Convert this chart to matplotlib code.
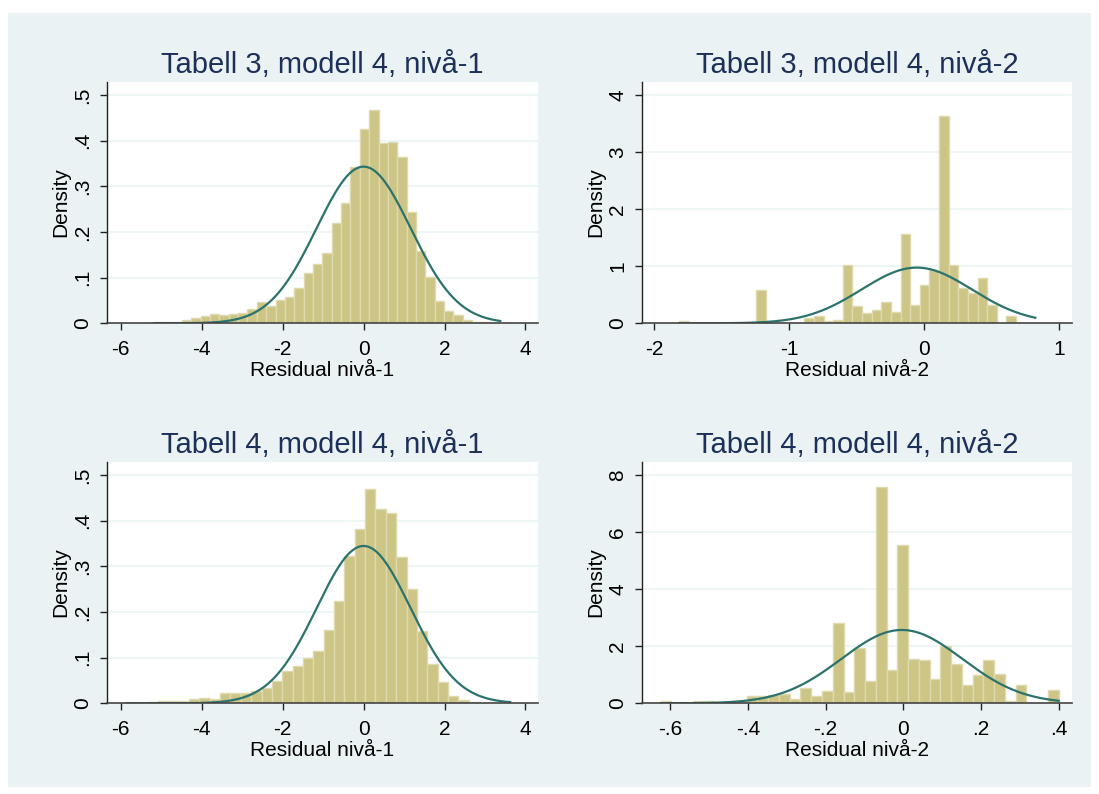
# encoding=utf-8
'''
Residualhistogram, fire paneler i Stata-stil
'''
import numpy as np
import matplotlib
matplotlib.use('Agg')
import matplotlib.pyplot as plt
from matplotlib.patches import Rectangle

plt.rcParams['font.family'] = ['Liberation Sans', 'DejaVu Sans']

# ---- data lest av bildet ----
titles = ['Tabell 3, modell 4, nivå-1', 'Tabell 3, modell 4, nivå-2',
          'Tabell 4, modell 4, nivå-1', 'Tabell 4, modell 4, nivå-2']
xlabels = ['Residual nivå-1', 'Residual nivå-2', 'Residual nivå-1', 'Residual nivå-2']

# start på første søyle og søylebredde
t3_n1_start, t3_n1_width = -5.185, 0.2314
t3_n2_start, t3_n2_width = -1.815, 0.07127
t4_n1_start, t4_n1_width = -5.853, 0.2561
t4_n2_start, t4_n2_width = -0.624, 0.02765

t3_n1_density = [0.002, 0.002, 0.002, 0.007, 0.012, 0.016, 0.020, 0.018, 0.020, 0.023,
                 0.031, 0.047, 0.037, 0.051, 0.057, 0.077, 0.110, 0.130, 0.155, 0.219,
                 0.263, 0.343, 0.425, 0.466, 0.394, 0.396, 0.364, 0.243, 0.158, 0.101,
                 0.049, 0.027, 0.018, 0.007, 0.003, 0.002, 0.001]
t3_n2_density = [0.04, 0, 0, 0, 0, 0, 0, 0, 0.584, 0,
                 0, 0, 0, 0.09, 0.125, 0.04, 0.058, 1.02, 0.30, 0.175,
                 0.233, 0.37, 0.20, 1.56, 0.315, 0.665, 0.934, 3.63, 1.02, 0.613,
                 0.525, 0.79, 0.315, 0.01, 0.125, 0, 0.01]
t4_n1_density = [0.001, 0.001, 0.002, 0.005, 0.005, 0.006, 0.0095, 0.012, 0.010, 0.022,
                 0.022, 0.022, 0.027, 0.033, 0.048, 0.071, 0.081, 0.100, 0.115, 0.161,
                 0.223, 0.323, 0.382, 0.469, 0.425, 0.416, 0.320, 0.250, 0.158, 0.085,
                 0.046, 0.015, 0.007, 0.002, 0.0015, 0.001, 0.0005]
t4_n2_density = [0.08, 0, 0, 0.08, 0.08, 0, 0, 0.08, 0.27, 0.27,
                 0.28, 0.33, 0.15, 0.54, 0.27, 0.42, 2.80, 0.39, 1.93, 0.78,
                 7.57, 1.16, 5.54, 1.54, 1.51, 0.85, 2.00, 1.38, 0.63, 0.98,
                 1.51, 1.02, 0.08, 0.63, 0, 0, 0.47]

# normalfordeling lagt over (gjennomsnitt, standardavvik)
t3_n1_norm = (0.0, 1.163)
t3_n2_norm = (-0.056, 0.409)
t4_n1_norm = (0.0, 1.158)
t4_n2_norm = (-0.004, 0.1552)

# akser
n1_xticks = [-6, -4, -2, 0, 2, 4]
n1_xticklabels = ['-6', '-4', '-2', '0', '2', '4']
n1_yticks = [0, 0.1, 0.2, 0.3, 0.4, 0.5]
n1_yticklabels = ['0', '.1', '.2', '.3', '.4', '.5']
t3_n2_xticks = [-2, -1, 0, 1]
t3_n2_xticklabels = ['-2', '-1', '0', '1']
t3_n2_yticks = [0, 1, 2, 3, 4]
t3_n2_yticklabels = ['0', '1', '2', '3', '4']
t4_n2_xticks = [-0.6, -0.4, -0.2, 0, 0.2, 0.4]
t4_n2_xticklabels = ['-.6', '-.4', '-.2', '0', '.2', '.4']
t4_n2_yticks = [0, 2, 4, 6, 8]
t4_n2_yticklabels = ['0', '2', '4', '6', '8']

W, H = 1099.0, 794.0
BG = '#EAF2F3'
FILL = '#CDC586'
EDGE = '#DEDAAE'
LINE = '#2B736C'
TITLE = '#1C3059'


def panel(rect_px, title, xlabel, start, width, dens, norm,
          xlim, ylim, xticks, xtl, yticks, ytl):
    # rect_px: venstre, topp, hoyre, bunn i piksler
    l, t, r, b = rect_px
    ax = fig.add_axes([l / W, 1 - b / H, (r - l) / W, (b - t) / H])
    ax.set_facecolor('white')
    edges = start + width * np.arange(len(dens) + 1)
    ax.bar(edges[:-1], dens, width=width, align='edge', color=FILL,
           edgecolor=EDGE, linewidth=1.0, zorder=2)
    mu, sd = norm
    xs = np.linspace(edges[0], edges[-1], 400)
    ys = np.exp(-0.5 * ((xs - mu) / sd) ** 2) / (sd * np.sqrt(2 * np.pi))
    ax.plot(xs, ys, color=LINE, linewidth=1.6, zorder=3)

    ax.set_xlim(xlim)
    ax.set_ylim(ylim)
    ax.set_xticks(xticks)
    ax.set_xticklabels(xtl)
    ax.set_yticks(yticks)
    ax.set_yticklabels(ytl, rotation=90, va='center')
    for y in yticks[1:]:
        ax.axhline(y, color=BG, linewidth=1.1, zorder=1)

    for s in ['top', 'right']:
        ax.spines[s].set_visible(False)
    ax.spines['left'].set_color('#222222')
    ax.spines['bottom'].set_color('#444444')
    ax.spines['left'].set_linewidth(1.0)
    ax.spines['bottom'].set_linewidth(1.2)
    ax.spines['bottom'].set_zorder(4)
    ax.tick_params(axis='both', direction='out', length=5.3, width=1.0,
                   labelsize=15, colors='#222222', labelcolor='black')
    ax.tick_params(axis='x', pad=6.5)
    ax.tick_params(axis='y', pad=5.0)
    ax.set_xlabel(xlabel, fontsize=15, labelpad=1.5)
    ax.set_ylabel('Density', fontsize=15, labelpad=2)

    fig.text((l + r) / 2 / W, 1 - (t - 9) / H, title, ha='center', va='baseline',
             fontsize=21, color=TITLE)
    return ax


fig = plt.figure(figsize=(10.99, 7.94), dpi=100)
fig.patch.set_facecolor('white')
fig.patches.append(Rectangle((8 / W, 7 / H), 1083 / W, 774 / H, transform=fig.transFigure,
                             facecolor=BG, edgecolor='none', zorder=-10))

L1, R1, L2, R2 = 106.7, 538.0, 641.7, 1072.3
T1, B1, T2, B2 = 81.7, 323.3, 461.7, 703.3

panel((L1, T1, R1, B1), titles[0], xlabels[0], t3_n1_start, t3_n1_width, t3_n1_density,
      t3_n1_norm, (-6.35, 4.31), (0, 0.529), n1_xticks, n1_xticklabels, n1_yticks, n1_yticklabels)
panel((L2, T1, R2, B1), titles[1], xlabels[1], t3_n2_start, t3_n2_width, t3_n2_density,
      t3_n2_norm, (-2.093, 1.096), (0, 4.231), t3_n2_xticks, t3_n2_xticklabels,
      t3_n2_yticks, t3_n2_yticklabels)
panel((L1, T2, R1, B2), titles[2], xlabels[2], t4_n1_start, t4_n1_width, t4_n1_density,
      t4_n1_norm, (-6.35, 4.31), (0, 0.529), n1_xticks, n1_xticklabels, n1_yticks, n1_yticklabels)
panel((L2, T2, R2, B2), titles[3], xlabels[3], t4_n2_start, t4_n2_width, t4_n2_density,
      t4_n2_norm, (-0.6726, 0.434), (0, 8.468), t4_n2_xticks, t4_n2_xticklabels,
      t4_n2_yticks, t4_n2_yticklabels)

fig.savefig('out.png', dpi=100, facecolor=fig.get_facecolor())
